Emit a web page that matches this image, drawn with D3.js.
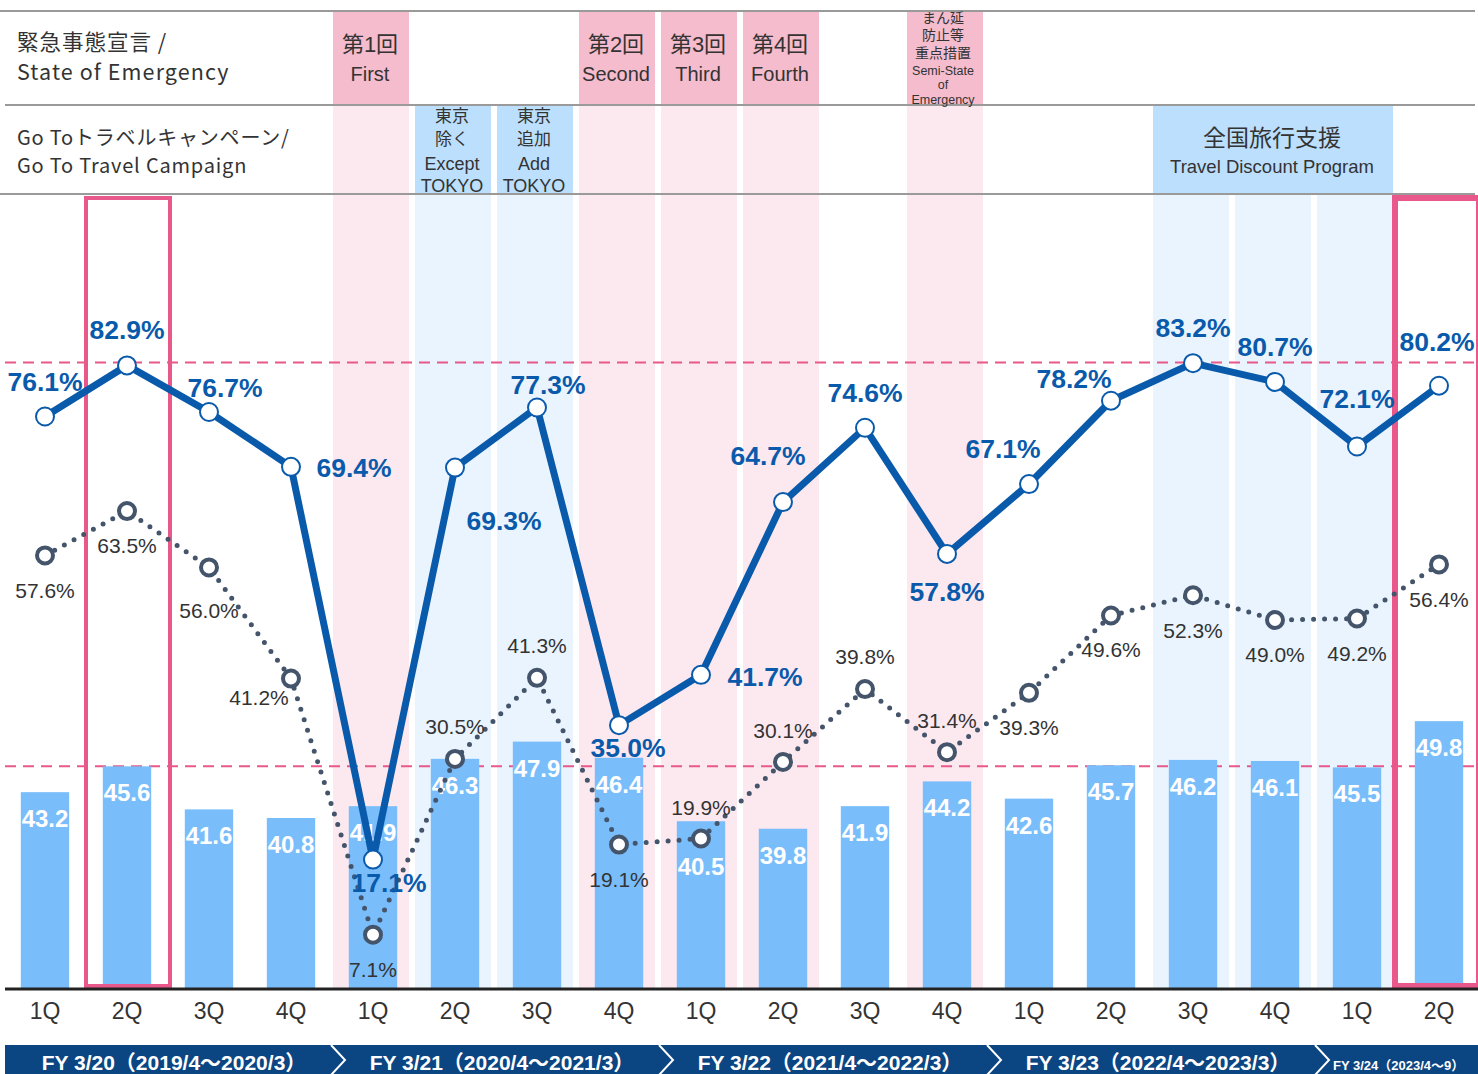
<!DOCTYPE html>
<html>
<head>
<meta charset="utf-8">
<script src="https://cdn.jsdelivr.net/npm/d3@7"></script>
<style>
  body { margin: 0; background: #fff; }
  svg { display: block; font-family: "Liberation Sans", Arial, "Noto Sans CJK JP", sans-serif; }
</style>
</head>
<body>
<svg id="chart" width="1478" height="1074"></svg>
<script>
"use strict";

//
// Data
//
var quarters = ["1Q","2Q","3Q","4Q","1Q","2Q","3Q","4Q","1Q","2Q","3Q","4Q","1Q","2Q","3Q","4Q","1Q","2Q"];
var barValues = [43.2, 45.6, 41.6, 40.8, 41.9, 46.3, 47.9, 46.4, 40.5, 39.8, 41.9, 44.2, 42.6, 45.7, 46.2, 46.1, 45.5, 49.8];
var solidValues = [76.1, 82.9, 76.7, 69.4, 17.1, 69.3, 77.3, 35.0, 41.7, 64.7, 74.6, 57.8, 67.1, 78.2, 83.2, 80.7, 72.1, 80.2];
var dottedValues = [57.6, 63.5, 56.0, 41.2, 7.1, 30.5, 41.3, 19.1, 19.9, 30.1, 39.8, 31.4, 39.3, 49.6, 52.3, 49.0, 49.2, 56.4];
var fyLabels = ["FY 3/20（2019/4～2020/3）", "FY 3/21（2020/4～2021/3）", "FY 3/22（2021/4～2022/3）", "FY 3/23（2022/4～2023/3）", "FY 3/24（2023/4～9）"];

var soeCols = [4, 7, 8, 9, 11];
var soeLabels = [["第1回", "First"], ["第2回", "Second"], ["第3回", "Third"], ["第4回", "Fourth"], ["まん延", "防止等", "重点措置", "Semi-State", "of", "Emergency"]];
var gotoCols = [5, 6];
var gotoLabels = [["東京", "除く", "Except", "TOKYO"], ["東京", "追加", "Add", "TOKYO"]];
var discountCols = [14, 15, 16];
var highlightCols = [1, 17];
var refIndex = 1;

// label offsets (dx, dy) for the value labels
var solidOffsets = [[0,-35],[0,-36],[16,-24],[63,1],[16,23],[49,53],[11,-23],[9,23],[64,2],[-15,-46],[0,-35],[0,38],[-26,-35],[-37,-22],[0,-35],[0,-35],[0,-48],[-2,-44]];
var dottedOffsets = [[0,35],[0,35],[0,43],[-32,19],[0,35],[0,-32],[0,-32],[0,35],[0,-31],[0,-31],[0,-32],[0,-32],[0,35],[0,34],[0,35],[0,35],[0,35],[0,35]];
var barLabelShift = {8: 19};

//
// Setup
//
var svg = d3.select("#chart");
var baseY = 988;

var x = d3.scaleBand().domain(d3.range(quarters.length)).range([4, 1480]).padding(0);
var xBar = d3.scaleBand().domain(d3.range(quarters.length)).range([4, 1480]).paddingInner(0.41).paddingOuter(0.205);
var yBar = d3.scaleLinear().domain([25, 100]).range([baseY, 181]);
var yPct = d3.scaleLinear().domain([0, 100]).range([baseY, 237]);
var cx = function(i) { return x(i) + x.bandwidth() / 2; };

var strongPink = "#f5bccd", lightPink = "#fce8ef", strongBlue = "#bbdffd", lightBlue = "#eaf4fe";
var lineBlue = "#0a5aab", dotGray = "#44546a", accent = "#e8588a", textGray = "#333";

//
// Column shading
//
var shade = svg.append("g");
soeCols.forEach(function(c) {
	shade.append("rect").attr("x", x(c) + 1).attr("y", 11).attr("width", 76).attr("height", 94).attr("fill", strongPink);
	shade.append("rect").attr("x", x(c) + 1).attr("y", 105).attr("width", 76).attr("height", baseY - 105).attr("fill", lightPink);
});
gotoCols.forEach(function(c) {
	shade.append("rect").attr("x", x(c) + 1).attr("y", 105).attr("width", 76).attr("height", 89).attr("fill", strongBlue);
	shade.append("rect").attr("x", x(c) + 1).attr("y", 194).attr("width", 76).attr("height", baseY - 194).attr("fill", lightBlue);
});
shade.append("rect")
	.attr("x", x(discountCols[0]) + 1).attr("y", 105)
	.attr("width", x(discountCols[discountCols.length - 1]) + 77 - x(discountCols[0]) - 1).attr("height", 89)
	.attr("fill", strongBlue);
discountCols.forEach(function(c) {
	shade.append("rect").attr("x", x(c) + 1).attr("y", 194).attr("width", 76).attr("height", baseY - 194).attr("fill", lightBlue);
});

//
// Header rows
//
var head = svg.append("g");
[[0, 11], [5, 105], [0, 194]].forEach(function(d) {
	head.append("line").attr("x1", d[0]).attr("x2", 1475).attr("y1", d[1]).attr("y2", d[1])
		.attr("stroke", "#9a9a9a").attr("stroke-width", 2);
});

var rowTitle = head.append("g").attr("font-family", "'Noto Sans CJK JP', 'Noto Sans', sans-serif").attr("fill", textGray);
rowTitle.append("text").attr("x", 17).attr("y", 50).attr("font-size", 21.5).attr("letter-spacing", 1).text("緊急事態宣言 /");
rowTitle.append("text").attr("x", 17).attr("y", 80).attr("font-size", 21.5).attr("letter-spacing", 1.1).text("State of Emergency");
rowTitle.append("text").attr("x", 17).attr("y", 145).attr("font-size", 20).attr("letter-spacing", 0.8).text("Go Toトラベルキャンペーン/");
rowTitle.append("text").attr("x", 17).attr("y", 173).attr("font-size", 20).attr("letter-spacing", 0.8).text("Go To Travel Campaign");

soeCols.forEach(function(c, k) {
	var lines = soeLabels[k];
	var g = head.append("g").attr("text-anchor", "middle").attr("fill", textGray);
	if (lines.length == 2) {
		g.append("text").attr("x", cx(c) - 3).attr("y", 52).attr("font-size", 22).text(lines[0]);
		g.append("text").attr("x", cx(c) - 3).attr("y", 81).attr("font-size", 20).text(lines[1]);
	} else {
		var ys = [23, 40, 58, 75, 89, 104];
		lines.forEach(function(t, j) {
			g.append("text").attr("x", cx(c) - 4).attr("y", ys[j])
				.attr("font-size", j < 3 ? 14 : 12.5).text(t);
		});
	}
});
gotoCols.forEach(function(c, k) {
	var g = head.append("g").attr("text-anchor", "middle").attr("fill", textGray);
	var ys = [122, 145, 170, 192];
	gotoLabels[k].forEach(function(t, j) {
		g.append("text").attr("x", cx(c) - 3).attr("y", ys[j]).attr("font-size", j < 2 ? 17 : 18).text(t);
	});
});
var dcx = (cx(discountCols[0]) + cx(discountCols[discountCols.length - 1])) / 2 - 3;
head.append("text").attr("x", dcx).attr("y", 146).attr("text-anchor", "middle").attr("font-size", 23).attr("fill", textGray).text("全国旅行支援");
head.append("text").attr("x", dcx).attr("y", 173).attr("text-anchor", "middle").attr("font-size", 18.5).attr("fill", textGray).text("Travel Discount Program");

//
// Reference dashed lines
//
var ref = svg.append("g").attr("stroke", accent).attr("stroke-width", 2).attr("stroke-dasharray", "11,7");
ref.append("line").attr("x1", 5).attr("x2", 1478).attr("y1", yPct(solidValues[refIndex]) - 3).attr("y2", yPct(solidValues[refIndex]) - 3);
ref.append("line").attr("x1", 5).attr("x2", 1478).attr("y1", yBar(barValues[refIndex])).attr("y2", yBar(barValues[refIndex]));

//
// Bars
//
svg.append("g").selectAll(".bar")
	.data(barValues)
	.enter()
	.append("rect")
	.attr("class", "bar")
	.attr("x", function(d, i) { return xBar(i); })
	.attr("width", xBar.bandwidth())
	.attr("y", function(d) { return yBar(d); })
	.attr("height", function(d) { return baseY - yBar(d); })
	.attr("fill", "#79bdfb");

svg.append("g").selectAll(".barLabel")
	.data(barValues)
	.enter()
	.append("text")
	.attr("x", function(d, i) { return cx(i); })
	.attr("y", function(d, i) { return yBar(d) + 35 + (barLabelShift[i] || 0); })
	.attr("text-anchor", "middle")
	.attr("font-size", 24)
	.attr("font-weight", "bold")
	.attr("fill", "#fff")
	.text(function(d) { return d.toFixed(1); });

//
// Highlight boxes
//
highlightCols.forEach(function(c, k) {
	svg.append("rect")
		.attr("x", x(c) - (k == 0 ? 0 : 3)).attr("y", 198)
		.attr("width", 84).attr("height", baseY - 200)
		.attr("fill", "none").attr("stroke", accent).attr("stroke-width", k == 0 ? 4 : 6);
});

//
// Axis
//
var xAxis = d3.axisBottom(x).tickSize(0).tickPadding(15).tickFormat(function(i) { return quarters[i]; });
var axisG = svg.append("g").attr("transform", "translate(0," + baseY + ")").call(xAxis);
axisG.select(".domain").remove();
axisG.selectAll("text").attr("font-size", 23).attr("fill", textGray).attr("font-family", "'Liberation Sans', Arial, sans-serif");
svg.append("line").attr("x1", 5).attr("x2", 1478).attr("y1", baseY + 1).attr("y2", baseY + 1)
	.attr("stroke", "#222").attr("stroke-width", 3);

//
// Lines
//
var lineGen = function(scale) {
	return d3.line().x(function(d, i) { return cx(i); }).y(function(d) { return scale(d); });
};

svg.append("path")
	.datum(dottedValues)
	.attr("d", lineGen(yPct))
	.attr("fill", "none")
	.attr("stroke", dotGray)
	.attr("stroke-width", 5)
	.attr("stroke-linecap", "round")
	.attr("stroke-dasharray", "0,11");

svg.append("path")
	.datum(solidValues)
	.attr("d", lineGen(yPct))
	.attr("fill", "none")
	.attr("stroke", lineBlue)
	.attr("stroke-width", 7)
	.attr("stroke-linejoin", "miter");

svg.append("g").selectAll("circle")
	.data(dottedValues)
	.enter()
	.append("circle")
	.attr("cx", function(d, i) { return cx(i); })
	.attr("cy", function(d) { return yPct(d); })
	.attr("r", 8)
	.attr("fill", "#fff")
	.attr("stroke", dotGray)
	.attr("stroke-width", 4);

svg.append("g").selectAll("circle")
	.data(solidValues)
	.enter()
	.append("circle")
	.attr("cx", function(d, i) { return cx(i); })
	.attr("cy", function(d) { return yPct(d); })
	.attr("r", 9)
	.attr("fill", "#fff")
	.attr("stroke", lineBlue)
	.attr("stroke-width", 2);

//
// Value labels
//
svg.append("g").selectAll("text")
	.data(dottedValues)
	.enter()
	.append("text")
	.attr("x", function(d, i) { return cx(i) + dottedOffsets[i][0]; })
	.attr("y", function(d, i) { return yPct(d) + dottedOffsets[i][1]; })
	.attr("dy", "0.35em")
	.attr("text-anchor", "middle")
	.attr("font-size", 21)
	.attr("fill", textGray)
	.text(function(d) { return d.toFixed(1) + "%"; });

svg.append("g").selectAll("text")
	.data(solidValues)
	.enter()
	.append("text")
	.attr("x", function(d, i) { return cx(i) + solidOffsets[i][0]; })
	.attr("y", function(d, i) { return yPct(d) + solidOffsets[i][1]; })
	.attr("dy", "0.35em")
	.attr("text-anchor", "middle")
	.attr("font-size", 26.5)
	.attr("font-weight", "bold")
	.attr("fill", lineBlue)
	.text(function(d) { return d.toFixed(1) + "%"; });

//
// Fiscal year band
//
var fy = svg.append("g");
fy.append("rect").attr("x", 5).attr("y", 1045).attr("width", 1473).attr("height", 30).attr("fill", "#0b4582");
fyLabels.forEach(function(t, k) {
	var start = x(k * 4);
	var end = k * 4 + 4 <= quarters.length ? x(k * 4 + 3) + x.bandwidth() : 1478;
	var last = k == fyLabels.length - 1;
	fy.append("text")
		.attr("x", last ? start + 17 : (start + end) / 2 + 6)
		.attr("y", 1070)
		.attr("text-anchor", last ? "start" : "middle")
		.attr("font-size", last ? 13 : 21)
		.attr("font-weight", "bold")
		.attr("fill", "#fff")
		.text(t);
	if (k > 0) {
		fy.append("polyline")
			.attr("points", [[start - 1, 1045], [start + 13, 1060], [start - 1, 1075]].join(" "))
			.attr("fill", "none").attr("stroke", "#fff").attr("stroke-width", 2);
	}
});
</script>
</body>
</html>
